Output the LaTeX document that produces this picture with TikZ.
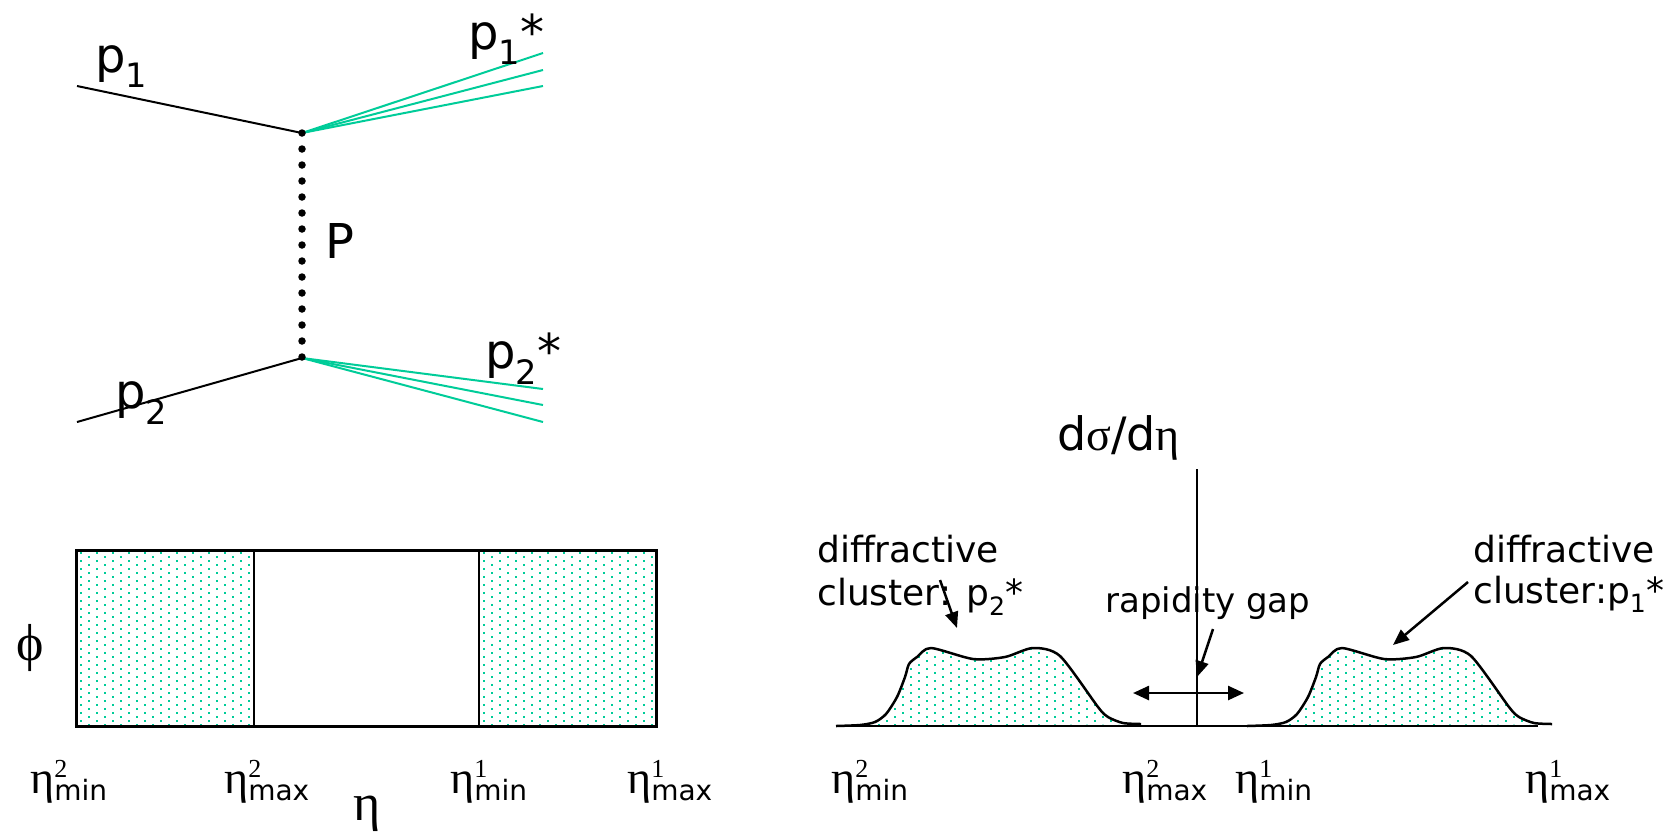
\documentclass[tikz,border=0pt]{standalone}
\usepackage{fontspec}
\setmainfont{DejaVu Sans}
\newfontfamily\gr{Liberation Serif}
\usetikzlibrary{arrows.meta,positioning}

\definecolor{clustergreen}{RGB}{0,204,153}

\newcommand{\etalab}[2]{{\fontsize{46}{46}\gr η}\rlap{\raisebox{16pt}{\fontsize{26}{26}\gr #1}}\raisebox{-7pt}{\fontsize{28}{28}\selectfont #2}}
\newcommand{\dotgrid}[4]{%
  \foreach \i in {0,...,#3}{\foreach \j in {0,...,#4}{%
    \fill[clustergreen] ({#1+8*\i},{#2+8*\j+4*mod(\i,2)}) rectangle ++(2.4,2.4);}}}

\begin{document}
\begin{tikzpicture}[x=1pt,y=-1pt,
  leg/.style={line width=2pt},
  jet/.style={line width=2pt, draw=clustergreen},
  callout/.style={line width=2.5pt, -{Triangle[length=16pt,width=13pt]}},
  lbl/.style={inner sep=0pt, anchor=base west},
  big/.style={font=\fontsize{48}{48}\selectfont},
  word/.style={font=\fontsize{36}{36}\selectfont},
  bump/.style={insert path={plot[smooth,tension=0.45] coordinates {
    (836,726) (860,725) (875,722) (886,714) (897,697) (905,677) (909,664)
    (917,657) (931,648) (973,659) (1005,657) (1033,648) (1060,656)
    (1098,707) (1108,717) (1123,723) (1141,724)}}}]
\useasboundingbox (0,0) rectangle (1673,831);

% scattering picture
\coordinate (in1) at (77,86);
\coordinate (in2) at (77,422);
\coordinate (v1) at (302,133);
\coordinate (v2) at (302,358);
\coordinate (o1a) at (543,53);
\coordinate (o1b) at (543,70);
\coordinate (o1c) at (543,86);
\coordinate (o2a) at (543,389);
\coordinate (o2b) at (543,405);
\coordinate (o2c) at (543,422);
\draw[leg] (in1) -- (v1);
\draw[leg] (in2) -- (v2);
\foreach \o in {o1a,o1b,o1c}{
  \draw[jet] (v1) -- (\o);
}
\foreach \o in {o2a,o2b,o2c}{
  \draw[jet] (v2) -- (\o);
}
\draw[line width=7.5pt, line cap=round, dash pattern=on 0pt off 16pt] (v1) -- (v2);
\node[lbl,big] (p1lbl) at (95,72) {p\textsubscript{1}};
\node[lbl,big] (p1slbl) at (468,49) {p\textsubscript{1}*};
\node[lbl,big] (Plbl) at (325,258) {P};
\node[lbl,big] (p2lbl) at (115,408) {p\textsubscript{2}};
\node[lbl,big] (p2slbl) at (485,368) {p\textsubscript{2}*};

% eta-phi plane
\begin{scope}
  \clip (76,550) rectangle (254,726);
  \dotgrid{80}{552}{22}{22}
\end{scope}
\begin{scope}
  \clip (479,550) rectangle (656,726);
  \dotgrid{483}{552}{22}{22}
\end{scope}
\draw[line width=3pt] (76,550) rectangle (656,726);
\draw[line width=2.5pt] (254,550) -- (254,726);
\draw[line width=2.5pt] (479,550) -- (479,726);
\node[lbl] (philbl) at (16,660) {\fontsize{52}{52}\gr ϕ};
\node[lbl] (etaaxis) at (353,820) {\fontsize{52}{52}\gr η};
\node[lbl] (e2minL) at (30,793) {\etalab{2}{min}};
\node[lbl] (e2maxL) at (224,793) {\etalab{2}{max}};
\node[lbl] (e1minL) at (450,793) {\etalab{1}{min}};
\node[lbl] (e1maxL) at (627,793) {\etalab{1}{max}};

% d sigma / d eta
\foreach \s in {0,411}{
  \begin{scope}[xshift=\s]
    \begin{scope}
      \clip[bump] -- cycle;
      \dotgrid{838}{648}{38}{10}
    \end{scope}
    \draw[line width=2.5pt, line join=round, bump];
  \end{scope}
}
\coordinate (base0) at (836,726);
\coordinate (base1) at (1538,726);
\coordinate (ytop) at (1197,469);
\draw[line width=2.5pt] (base0) -- (base1);
\draw[line width=2pt] (ytop) -- (ytop |- base0);
\node[lbl] (dsig) at (1057,450) {\fontsize{46}{46}\selectfont d{\gr σ}/d{\gr η}};

\node[lbl,word] (diffL) at (817,562) {diffractive};
\node[lbl,word] (clusL) at (817,605) {cluster: p\textsubscript{2}*};
\node[lbl,word] (diffR) at (1473,562) {diffractive};
\node[lbl,word] (clusR) at (1473,603) {cluster:p\textsubscript{1}*};
\node[lbl,font=\fontsize{34}{34}\selectfont] (gaplbl) at (1105,612) {rapidity gap};

\coordinate (aL0) at (940,580);
\coordinate (aL1) at (957,628);
\coordinate (aR0) at (1468,582);
\coordinate (aR1) at (1393,645);
\coordinate (aG0) at (1213,629);
\coordinate (aG1) at (1197,677);
\coordinate (gapL) at (1133,693);
\coordinate (gapR) at (1244,693);
\draw[callout] (aL0) -- (aL1);
\draw[callout] (aR0) -- (aR1);
\draw[callout] (aG0) -- (aG1);
\draw[line width=2.5pt, {Triangle[length=16pt,width=14pt]}-{Triangle[length=16pt,width=14pt]}] (gapL) -- (gapR);

\node[lbl] (e2minR) at (831,793) {\etalab{2}{min}};
\node[lbl] (e2maxR) at (1122,793) {\etalab{2}{max}};
\node[lbl] (e1minR) at (1235,793) {\etalab{1}{min}};
\node[lbl] (e1maxR) at (1525,793) {\etalab{1}{max}};
\end{tikzpicture}
\end{document}
